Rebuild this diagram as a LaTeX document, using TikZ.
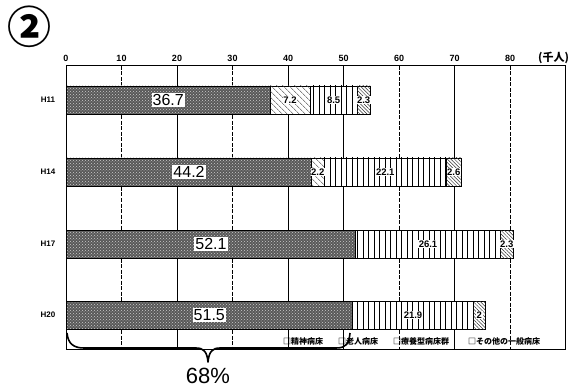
\documentclass[tikz,border=0pt]{standalone}
\usepackage{fontspec}
\setmainfont{Liberation Sans}
\newfontfamily\cjk{Noto Sans CJK JP}
\usetikzlibrary{patterns,patterns.meta}
\tikzset{
  segbase/.style={draw=black, line width=0.8pt, anchor=west, inner sep=0pt, minimum height=28pt},
  segA/.style={segbase, preaction={fill=black!65}, pattern=crosshatch dots, pattern color=white!80!black},
  segB/.style={segbase, fill=white, postaction={pattern={Lines[angle=-45,distance=4pt,line width=0.5pt]}, pattern color=black!75}},
  segC/.style={segbase, fill=white, postaction={pattern={Lines[angle=90,distance=5.5pt,line width=0.9pt]}, pattern color=black}},
  segD/.style={segbase, fill=white, postaction={pattern={Lines[angle=-45,distance=2.5pt,line width=0.5pt]}, pattern color=black!80}},
  biglab/.style={fill=white, inner sep=1pt, font=\fontsize{16}{16}\selectfont},
  smalllab/.style={fill=white, inner sep=0.5pt, font=\fontsize{9.5}{9.5}\selectfont\bfseries},
  ticklab/.style={font=\fontsize{9}{9}\selectfont\bfseries},
  catlab/.style={font=\fontsize{8}{8}\selectfont\bfseries},
  leglab/.style={anchor=west, inner sep=0pt, font=\cjk\fontsize{8}{8}\selectfont\bfseries},
  grid/.style={line width=0.8pt},
  gridd/.style={line width=0.6pt, dash pattern=on 4pt off 1.5pt},
}
\begin{document}
\begin{tikzpicture}[x=1pt,y=-1pt]
\useasboundingbox[fill=white] (0,0) rectangle (569,387);
% circled number
\node[font=\cjk\bfseries\fontsize{44}{44}\selectfont, inner sep=0pt] (num) at (29,27) {②};
% frame and grid
\draw[line width=1pt] (66,66) rectangle (565,349);
\foreach \v/\s in {10/gridd,20/grid,30/gridd,40/grid,50/grid,60/gridd,70/grid,80/gridd}{
  \draw[\s] ({66+\v*5.55},66) -- ({66+\v*5.55},349);
}
\foreach \v in {0,10,...,80}{
  \node[ticklab] (t\v) at ({66+\v*5.55},58) {\v};
}
\node[anchor=west, font=\cjk\fontsize{11}{11}\selectfont\bfseries, inner sep=0pt] (unit) at (538,58) {(千人)};
% categories
\node[catlab] (h11) at (48,100) {H11};
\node[catlab] (h14) at (48,172) {H14};
\node[catlab] (h17) at (48,244) {H17};
\node[catlab] (h20) at (48,315) {H20};
% H11
\node[segA, minimum width=203.7pt] (a11) at (66,100) {};
\node[segB, minimum width=39.9pt] (b11) at (269.7,100) {};
\node[segC, minimum width=47.2pt] (c11) at (309.6,100) {};
\node[segD, minimum width=12.8pt] (d11) at (356.8,100) {};
% H14
\node[segA, minimum width=245.3pt] (a14) at (66,172) {};
\node[segB, minimum width=12.2pt] (b14) at (311.3,172) {};
\node[segC, minimum width=122.7pt] (c14) at (323.5,172) {};
\node[segD, minimum width=14.4pt] (d14) at (446.2,172) {};
% H17
\node[segA, minimum width=289.2pt] (a17) at (66,244) {};
\node[segC, minimum width=144.8pt] (c17) at (355.2,244) {};
\node[segD, minimum width=12.8pt] (d17) at (500.0,244) {};
% H20
\node[segA, minimum width=285.8pt] (a20) at (66,315) {};
\node[segC, minimum width=121.6pt] (c20) at (351.8,315) {};
\node[segD, minimum width=11.1pt] (d20) at (473.4,315) {};
% value labels
\node[biglab] (la11) at (a11.center) {36.7};
\node[smalllab] (lb11) at (b11.center) {7.2};
\node[smalllab] (lc11) at (c11.center) {8.5};
\node[smalllab] (ld11) at (d11.center) {2.3};
\node[biglab] (la14) at (a14.center) {44.2};
\node[smalllab] (lb14) at (b14.center) {2.2};
\node[smalllab] (lc14) at (c14.center) {22.1};
\node[smalllab] (ld14) at (d14.center) {2.6};
\node[biglab] (la17) at (a17.center) {52.1};
\node[smalllab] (lc17) at (c17.center) {26.1};
\node[smalllab] (ld17) at (d17.center) {2.3};
\node[biglab] (la20) at (a20.center) {51.5};
\node[smalllab] (lc20) at (c20.center) {21.9};
\node[smalllab] (ld20) at (d20.center) {2};
% legend
\node[leglab] (lg1) at (283,341) {□精神病床};
\node[leglab] (lg2) at (338,341) {□老人病床};
\node[leglab] (lg3) at (393,341) {□療養型病床群};
\node[leglab] (lg4) at (468,341) {□その他の一般病床};
% brace
\coordinate (bs) at (67,333);
\coordinate (be) at (350,333);
\coordinate (bt) at (208,362);
\draw[line width=1.6pt, line join=round]
  (bs) .. controls (68,344) and (74,348) .. (84,348)
  -- (196,348) .. controls (204,348) and (207,352) .. (bt)
  .. controls (209,352) and (212,348) .. (220,348)
  -- (336,348) .. controls (346,348) and (349,344) .. (be);
\node[font=\fontsize{22}{22}\selectfont] (pct) at (208,376) {68\%};
\end{tikzpicture}
\end{document}
